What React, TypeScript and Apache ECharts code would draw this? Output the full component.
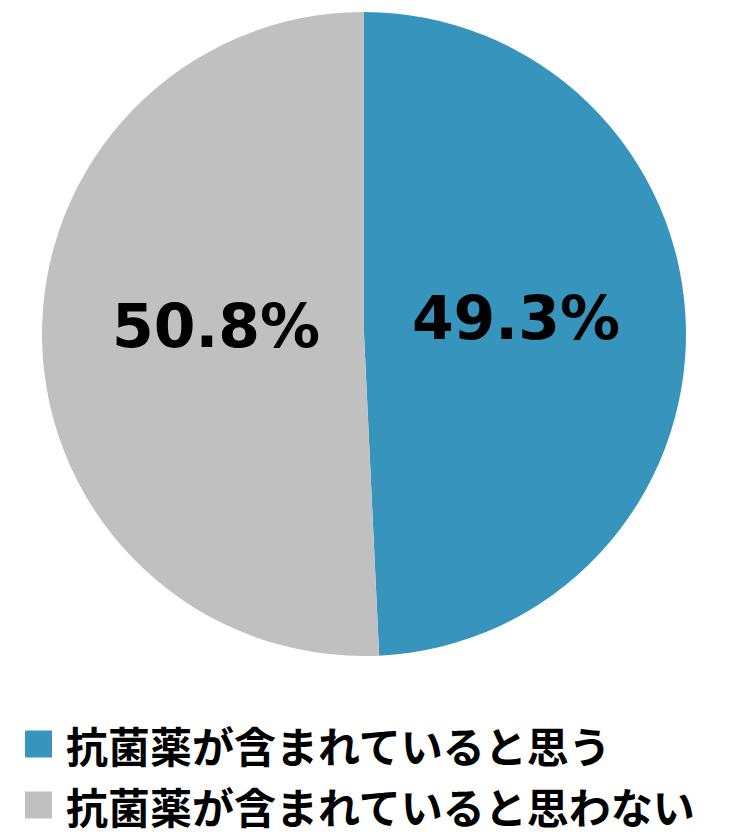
import React, { useEffect, useRef } from "react";
import * as echarts from "echarts";

const categories = ["抗菌薬が含まれていると思う", "抗菌薬が含まれていると思わない"];
const values = [49.3, 50.8];
const colors = ["#3795BD", "#C0C0C0"];
const labelOffsets = [[-12, -12], [16, -12]];

export default function App() {
  const ref = useRef<HTMLDivElement>(null);
  useEffect(() => {
    const chart = echarts.init(ref.current!, null, { renderer: "svg" });
    chart.setOption({
      animation: false,
      backgroundColor: "#ffffff",
      legend: {
        orient: "vertical",
        left: 20,
        top: 713,
        itemWidth: 27,
        itemHeight: 27,
        itemGap: 9,
        icon: "rect",
        data: categories,
        textStyle: {
          fontFamily: "'Noto Sans CJK JP', sans-serif",
          fontWeight: "bold",
          fontSize: 42,
          lineHeight: 52,
          color: "#000000",
          padding: [0, 0, 0, 9],
        },
      },
      series: [
        {
          type: "pie",
          center: [364, 334],
          radius: [0, 322],
          startAngle: 90,
          clockwise: true,
          silent: true,
          labelLine: { show: false },
          label: {
            show: true,
            position: "inside",
            formatter: (p: any) => p.value.toFixed(1) + "%",
            fontFamily: "'DejaVu Sans', sans-serif",
            fontWeight: "bold",
            fontSize: 60,
            color: "#000000",
          },
          data: categories.map((name, i) => ({
            name,
            value: values[i],
            itemStyle: { color: colors[i] },
            label: { offset: labelOffsets[i] },
          })),
        },
      ],
    });
    return () => chart.dispose();
  }, []);
  return (
    <div
      ref={ref}
      style={{ position: "fixed", left: 0, top: 0, width: 729, height: 840 }}
    />
  );
}
